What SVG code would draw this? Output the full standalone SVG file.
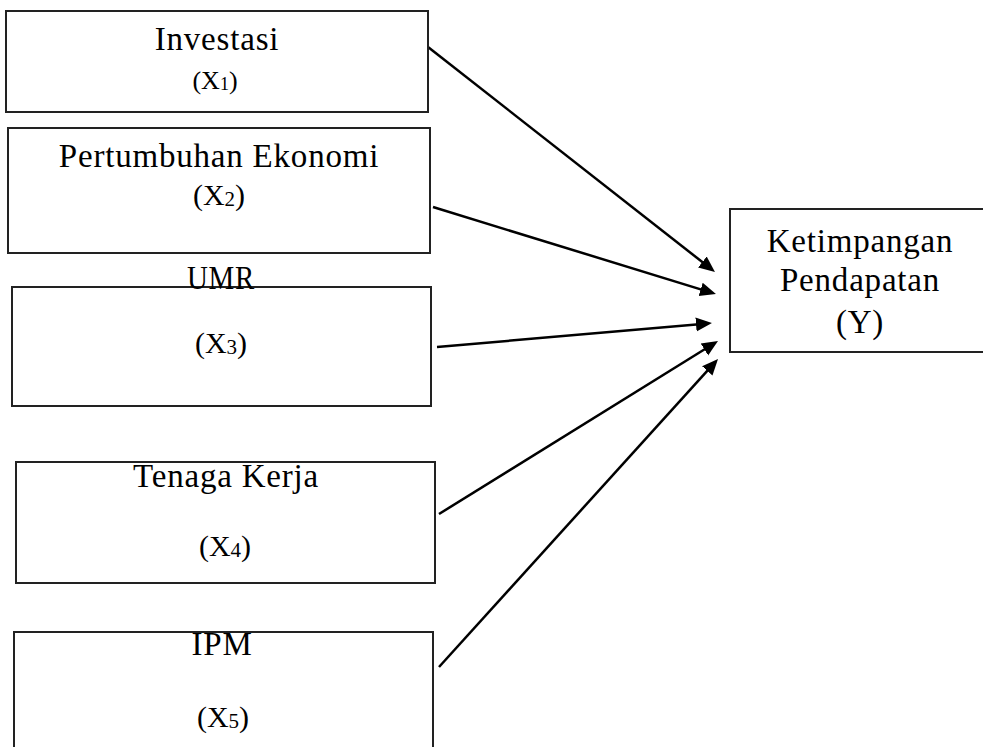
<svg xmlns="http://www.w3.org/2000/svg" width="983" height="747" viewBox="0 0 983 747">
<style>
.box{fill:#fff;stroke:#222;stroke-width:2}
.lbl{font-family:"Liberation Serif","Times New Roman",serif;font-size:33px;letter-spacing:0.8px;fill:#000;text-anchor:middle}
.var{font-family:"Liberation Serif","Times New Roman",serif;font-size:30px;fill:#000;text-anchor:middle}
.var1{font-size:26px}
.sub{font-size:21px}
.sub1{font-size:18px}
.edge{stroke:#000;stroke-width:2.5;fill:none;marker-end:url(#ah)}
</style>
<defs>
<marker id="ah" markerUnits="userSpaceOnUse" markerWidth="20" markerHeight="16" refX="6" refY="8" orient="auto" viewBox="0 0 20 16">
<path d="M0,1 L16,8 L0,15 z" fill="#000"/>
</marker>
</defs>
<rect width="983" height="747" fill="#fff"/>
<g id="connectors">
<line class="edge" x1="428" y1="47" x2="707.1" y2="265.8"/>
<line class="edge" x1="433" y1="207" x2="706.4" y2="291.1"/>
<line class="edge" x1="437" y1="347" x2="702" y2="323.9"/>
<line class="edge" x1="439" y1="514" x2="709.5" y2="346.3"/>
<line class="edge" x1="439" y1="667" x2="711.3" y2="366.4"/>
</g>
<g id="node-x1">
<rect class="box" x="6" y="11" width="422" height="101"/>
<text class="lbl" x="217" y="50">Investasi</text>
<text class="var var1" x="215" y="89">(X<tspan class="sub1" dy="1">1</tspan><tspan dy="-1">)</tspan></text>
</g>
<g id="node-x2">
<rect class="box" x="8" y="128" width="422" height="125"/>
<text class="lbl" x="219" y="167">Pertumbuhan Ekonomi</text>
<text class="var" x="219" y="205">(X<tspan class="sub" dy="1">2</tspan><tspan dy="-1">)</tspan></text>
</g>
<g id="node-x3">
<rect class="box" x="12" y="287" width="419" height="119"/>
<text class="lbl" x="221" y="289" textLength="68" lengthAdjust="spacingAndGlyphs">UMR</text>
<text class="var" x="221" y="353">(X<tspan class="sub" dy="1">3</tspan><tspan dy="-1">)</tspan></text>
</g>
<g id="node-x4">
<rect class="box" x="16" y="462" width="419" height="121"/>
<text class="lbl" x="226" y="487">Tenaga Kerja</text>
<text class="var" x="225" y="556">(X<tspan class="sub" dy="1">4</tspan><tspan dy="-1">)</tspan></text>
</g>
<g id="node-x5">
<rect class="box" x="14" y="632" width="419" height="130"/>
<text class="lbl" x="222" y="655">IPM</text>
<text class="var" x="223" y="727">(X<tspan class="sub" dy="1">5</tspan><tspan dy="-1">)</tspan></text>
</g>
<g id="node-y">
<rect class="box" x="730" y="209" width="262" height="143"/>
<text class="lbl" x="860" y="252">Ketimpangan</text>
<text class="lbl" x="860" y="291">Pendapatan</text>
<text class="lbl" x="860" y="333">(Y)</text>
</g>
</svg>
